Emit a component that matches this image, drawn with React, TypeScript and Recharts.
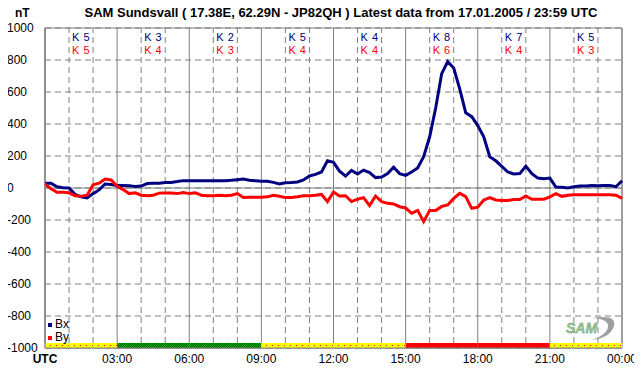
import {
  ComposedChart,
  Line,
  XAxis,
  YAxis,
  CartesianGrid,
  ReferenceLine,
  ReferenceArea,
  ReferenceDot,
} from "recharts";

// time of day in hours, one sample every 15 minutes
const hours = Array.from({ length: 97 }, (_, i) => i * 0.25);

const bx = [
  30, 30, 8, 2, 0, -40, -55, -62, -35, -12, 25, 22,
  15, 15, 14, 10, 12, 28, 29, 30, 35, 35, 40, 46,
  45, 46, 45, 46, 45, 45, 46, 48, 52, 56, 48, 45,
  42, 42, 35, 25, 33, 35, 38, 50, 75, 85, 100, 170,
  160, 105, 75, 110, 87, 112, 96, 65, 68, 90, 130, 90,
  79, 100, 125, 196, 320, 500, 715, 790, 750, 620, 470, 446,
  390, 320, 195, 170, 135, 100, 88, 90, 137, 90, 62, 58,
  62, 6, 4, 0, 8, 12, 12, 15, 14, 15, 16, 8,
  45,
];

const by = [
  25, -5, -27, -27, -30, -48, -52, -45, 20, 30, 56, 50,
  10, -10, -35, -30, -45, -48, -45, -32, -31, -31, -35, -28,
  -35, -30, -45, -48, -48, -45, -48, -45, -35, -60, -58, -58,
  -58, -55, -46, -52, -60, -60, -55, -48, -48, -45, -40, -85,
  -25, -50, -48, -85, -70, -60, -110, -50, -85, -96, -100, -117,
  -125, -158, -140, -210, -140, -140, -115, -106, -65, -33, -54, -127,
  -120, -75, -60, -75, -78, -78, -72, -72, -50, -70, -70, -70,
  -55, -35, -52, -45, -42, -42, -42, -42, -42, -42, -42, -45,
  -65,
];

// K index per 3-hour block
const kBx = [5, 3, 2, 5, 4, 8, 7, 5];
const kBy = [5, 4, 3, 4, 4, 6, 4, 3];
const blockStatus = ["yellow", "green", "green", "yellow", "yellow", "red", "red", "yellow"];

const yTicks = [-1000, -800, -600, -400, -200, 0, 200, 400, 600, 800, 1000];
const xTicks = [0, 3, 6, 9, 12, 15, 18, 21, 24];
const kTicks = [1.5, 4.5, 7.5, 10.5, 13.5, 16.5, 19.5, 22.5];
const gridHours = Array.from({ length: 25 }, (_, i) => i);

const data = hours.map((h, i) => ({ t: h, Bx: bx[i], By: by[i] }));

const FONT = "'Liberation Sans', Arial, sans-serif";
const GRID = "#808080";
const NAVY = "#000080";
const RED = "#ff0000";

const statusFill: Record<string, string> = {
  yellow: "url(#yellowDots)",
  green: "url(#greenCheck)",
  red: "#ff0000",
};

const TimeTick = (props: any) => {
  const { x, y, payload } = props;
  const v = payload.value;
  if (v === 0) {
    return (
      <text x={x} y={y} dy="0.71em" textAnchor="middle" fontSize={12} fontWeight="bold" fill="#000" fontFamily={FONT}>
        UTC
      </text>
    );
  }
  const hh = String(v % 24).padStart(2, "0");
  return (
    <text x={x} y={y} dy="0.71em" textAnchor="middle" fontSize={12} fill="#000" fontFamily={FONT}>
      {hh}:00
    </text>
  );
};

// y labels are left aligned in the original
const ValueTick = (props: any) => {
  const { y, payload } = props;
  return (
    <text x={7} y={y} dy="0.35em" textAnchor="start" fontSize={12} fill="#000" fontFamily={FONT}>
      {payload.value}
    </text>
  );
};

const kLabel = (i: number) => (props: any) => {
  const { cx, cy } = props;
  return (
    <g fontFamily={FONT} fontSize={11} textAnchor="middle" letterSpacing={0.5}>
      <text x={cx} y={cy + 13} fill={NAVY}>K {kBx[i]}</text>
      <text x={cx} y={cy + 26} fill={RED}>K {kBy[i]}</text>
    </g>
  );
};

const square = (c: string) => (
  <span style={{ display: "inline-block", width: 4, height: 4, background: c, marginRight: 3, verticalAlign: "middle" }} />
);

export default function App() {
  return (
    <div style={{ position: "relative", width: 642, height: 376, margin: -8, background: "#fff", fontFamily: FONT }}>
      <div style={{ position: "absolute", left: 15, top: 6, fontSize: 12, fontWeight: "bold" }}>nT</div>
      <div style={{ position: "absolute", left: 0, width: 682, top: 5, textAlign: "center", fontSize: 13, fontWeight: "bold" }}>
        SAM Sundsvall ( 17.38E, 62.29N - JP82QH ) Latest data from 17.01.2005 / 23:59 UTC
      </div>
      <ComposedChart width={642} height={376} data={data} margin={{ top: 28, right: 20, left: 0, bottom: 0 }}>
        <defs>
          <pattern id="yellowDots" width={6} height={5} y={3} patternUnits="userSpaceOnUse">
            <rect width={6} height={5} fill="#ffff00" />
            <rect x={2} y={2} width={1} height={1} fill="#ff0000" />
          </pattern>
          <pattern id="greenCheck" width={2} height={2} patternUnits="userSpaceOnUse">
            <rect width={2} height={2} fill="#00b000" />
            <rect width={1} height={1} fill="#006000" />
            <rect x={1} y={1} width={1} height={1} fill="#006000" />
          </pattern>
        </defs>
        <CartesianGrid vertical={false} stroke={GRID} strokeDasharray="6 4" />
        {gridHours.map((h) => (
          <ReferenceLine
            key={h}
            segment={[{ x: h, y: -969 }, { x: h, y: 1000 }]}
            stroke={GRID}
            strokeDasharray={h % 3 === 0 ? undefined : "6 4"}
          />
        ))}
        <ReferenceLine y={0} stroke={GRID} />
        <ReferenceArea x1={0} x2={24} y1={-1000} y2={1000} fill="none" stroke={GRID} />
        {blockStatus.map((s, i) => (
          <ReferenceArea key={i} x1={i * 3} x2={i * 3 + 3} y1={-1000} y2={-969} fill={statusFill[s]} fillOpacity={1} stroke="none" />
        ))}
        {kTicks.map((k, i) => (
          <ReferenceDot key={k} x={k} y={1000} r={0} shape={kLabel(i)} />
        ))}
        <XAxis
          dataKey="t"
          type="number"
          domain={[0, 24]}
          ticks={xTicks}
          tick={<TimeTick />}
          tickLine={false}
          tickSize={0}
          tickMargin={6}
          axisLine={{ stroke: GRID }}
          height={28}
          interval={0}
        />
        <YAxis
          type="number"
          domain={[-1000, 1000]}
          ticks={yTicks}
          tick={<ValueTick />}
          tickLine={false}
          tickSize={0}
          axisLine={{ stroke: GRID }}
          width={45}
          interval={0}
        />
        <Line type="linear" dataKey="Bx" stroke={NAVY} strokeWidth={3} dot={false} isAnimationActive={false} />
        <Line type="linear" dataKey="By" stroke={RED} strokeWidth={3} dot={false} isAnimationActive={false} />
      </ComposedChart>
      <div style={{ position: "absolute", left: 48, top: 318, fontSize: 12, lineHeight: "13px", color: "#000" }}>
        <div>{square(NAVY)}Bx</div>
        <div>{square(RED)}By</div>
      </div>
      <svg style={{ position: "absolute", left: 562, top: 312 }} width={58} height={30}>
        <path d="M 30 6 Q 55 2 52 14 Q 48 26 30 28 Q 46 22 46 14 Q 46 7 30 6 Z" fill="#a0a0a0" />
        <text x={4} y={21} fontSize={14} fontStyle="italic" fontWeight="bold" fill="#8fd88f" stroke="#7a7a7a" strokeWidth={0.4} fontFamily={FONT}>
          SAM
        </text>
      </svg>
    </div>
  );
}
